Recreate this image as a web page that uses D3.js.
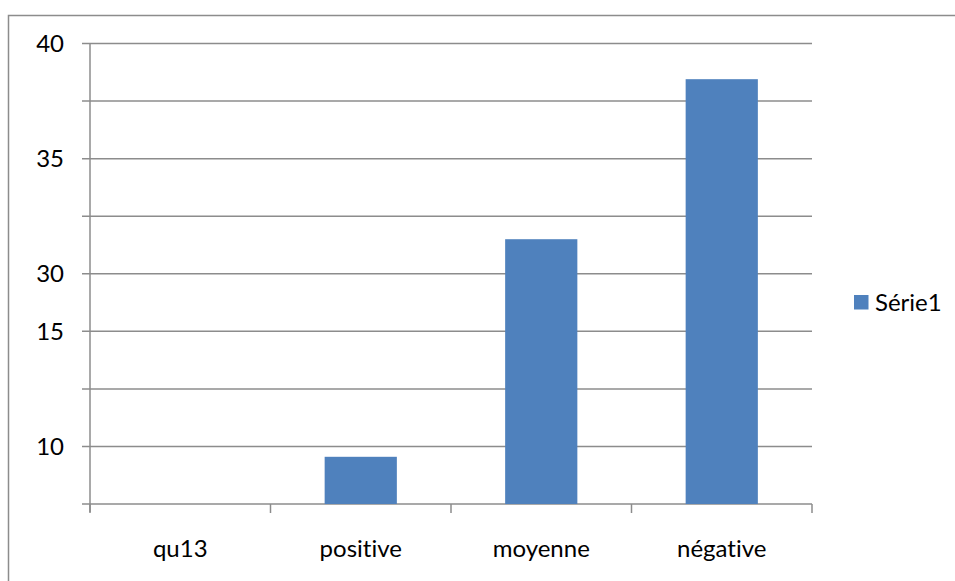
<!DOCTYPE html>
<html>
<head>
<meta charset="utf-8">
<script src="https://cdn.jsdelivr.net/npm/d3@7"></script>
<style>
  html, body { margin: 0; padding: 0; background: #fff; }
  svg { display: block; }
  text { font-family: Lato, "Noto Sans", sans-serif; fill: #000; font-variant-ligatures: none; }
</style>
</head>
<body>
<svg id="chart" width="955" height="581"></svg>
<script>
// Bar categories and the single series
const categories = ["qu13", "positive", "moyenne", "négative"];
const serie1 = [0, 4.1, 23, 36.9];
const seriesName = "Série1";

// Axis ticks: gridline positions and the labels printed beside them
const gridValues = [0, 5, 10, 15, 20, 25, 30, 35, 40];
const tickValues = [40, 30, 20, 15, 5];
const tickLabels = ["40", "35", "30", "15", "10"];

const svg = d3.select("#chart");
const W = 955, H = 581;
const plot = { left: 90, right: 812, top: 43.5, bottom: 504 };
const barColor = "#4f81bd";
const lineColor = "#8c8c8c";
const fontSize = 24;

// Outer frame
svg.append("rect")
  .attr("x", 8.5).attr("y", 15.5)
  .attr("width", W).attr("height", H)
  .attr("fill", "none").attr("stroke", lineColor).attr("stroke-width", 1.5);

const x = d3.scaleBand().domain(categories)
  .range([plot.left, plot.right]).paddingInner(0.6).paddingOuter(0.3);
const y = d3.scaleLinear().domain([0, 40]).range([plot.bottom, plot.top]);

// Horizontal gridlines with small left ticks
svg.append("g").selectAll("line").data(gridValues).join("line")
  .attr("x1", plot.left - 8).attr("x2", plot.right)
  .attr("y1", d => y(d)).attr("y2", d => y(d))
  .attr("stroke", lineColor).attr("stroke-width", 1.5);

// Vertical axis line
svg.append("line")
  .attr("x1", plot.left).attr("x2", plot.left)
  .attr("y1", plot.top).attr("y2", plot.bottom + 8)
  .attr("stroke", lineColor).attr("stroke-width", 1.5);

// Category boundary ticks below the baseline
const bandW = (plot.right - plot.left) / categories.length;
const boundaries = d3.range(categories.length + 1).map(i => plot.left + i * bandW);
svg.append("g").selectAll("line").data(boundaries).join("line")
  .attr("x1", d => d).attr("x2", d => d)
  .attr("y1", plot.bottom).attr("y2", plot.bottom + 9)
  .attr("stroke", lineColor).attr("stroke-width", 1.5);

// Bars
svg.append("g").selectAll("rect").data(categories).join("rect")
  .attr("x", d => x(d))
  .attr("width", x.bandwidth())
  .attr("y", (d, i) => y(serie1[i]))
  .attr("height", (d, i) => y(0) - y(serie1[i]))
  .attr("fill", barColor);

// Y tick labels
svg.append("g").selectAll("text").data(tickValues).join("text")
  .attr("x", 64)
  .attr("y", d => y(d))
  .attr("dy", "0.36em")
  .attr("text-anchor", "end")
  .attr("font-size", fontSize)
  .text((d, i) => tickLabels[i]);

// Category labels
svg.append("g").selectAll("text").data(categories).join("text")
  .attr("x", (d, i) => plot.left + bandW * (i + 0.5))
  .attr("y", 557)
  .attr("text-anchor", "middle")
  .attr("font-size", fontSize)
  .text(d => d);

// Legend
const legend = svg.append("g").attr("transform", "translate(854,295)");
legend.append("rect").attr("width", 14.5).attr("height", 14.5).attr("fill", barColor);
legend.append("text").attr("x", 21).attr("y", 7.5).attr("dy", "0.36em")
  .attr("font-size", fontSize).text(seriesName);
</script>
</body>
</html>
